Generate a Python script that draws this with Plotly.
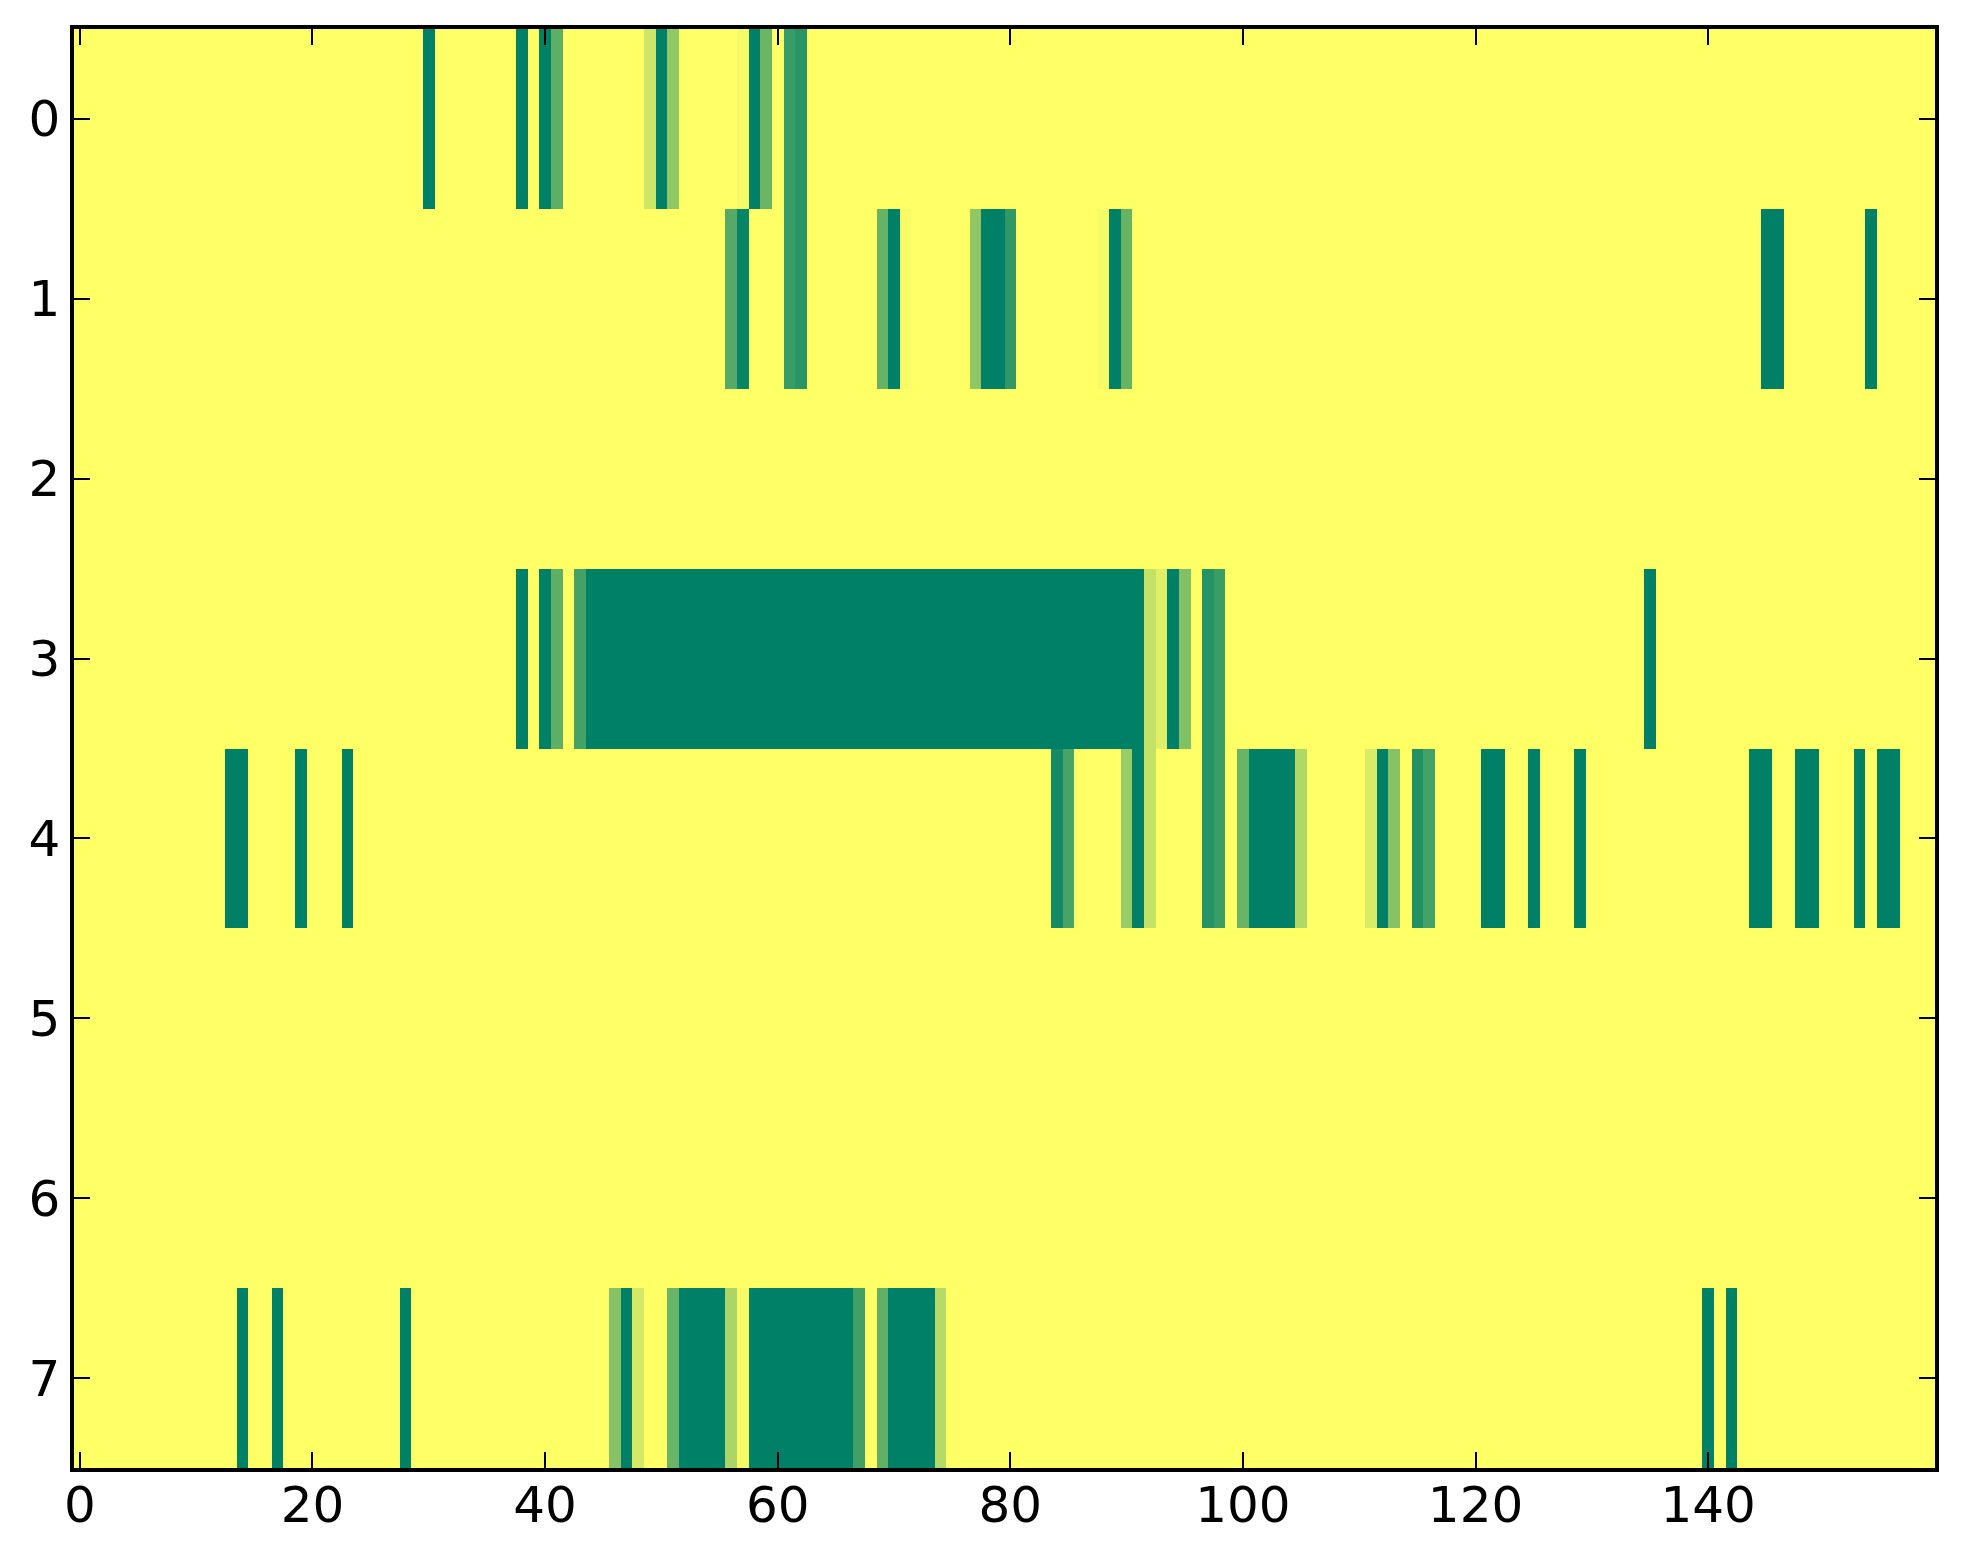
import numpy as np
import plotly.graph_objects as go

# grid size (rows x columns) of the image
n_rows = 8
n_cols = 160

# non-zero cells per row: column -> value (0 = yellow, 1 = dark green)
row0 = {30: 1.0, 38: 1.0, 40: 1.0, 41: 0.63, 49: 0.2, 50: 1.0, 51: 0.43,
        57: 0.04, 58: 1.0, 59: 0.58, 61: 0.78, 62: 0.84}
row1 = {56: 0.67, 57: 0.97, 61: 0.78, 62: 0.84, 69: 0.6, 70: 1.0, 71: 0.03,
        77: 0.44, 78: 1.0, 79: 1.0, 80: 0.81, 88: 0.04, 89: 1.0, 90: 0.6,
        145: 1.0, 146: 1.0, 154: 1.0}
row2 = {}
row3 = {38: 1.0, 40: 1.0, 41: 0.63, 43: 0.73,
        44: 1.0, 45: 1.0, 46: 1.0, 47: 1.0, 48: 1.0, 49: 1.0, 50: 1.0, 51: 1.0,
        52: 1.0, 53: 1.0, 54: 1.0, 55: 1.0, 56: 1.0, 57: 1.0, 58: 1.0, 59: 1.0,
        60: 1.0, 61: 1.0, 62: 1.0, 63: 1.0, 64: 1.0, 65: 1.0, 66: 1.0, 67: 1.0,
        68: 1.0, 69: 1.0, 70: 1.0, 71: 1.0, 72: 1.0, 73: 1.0, 74: 1.0, 75: 1.0,
        76: 1.0, 77: 1.0, 78: 1.0, 79: 1.0, 80: 1.0, 81: 1.0, 82: 1.0, 83: 1.0,
        84: 1.0, 85: 1.0, 86: 1.0, 87: 1.0, 88: 1.0, 89: 1.0, 90: 1.0, 91: 1.0,
        92: 0.23, 93: 0.12, 94: 1.0, 95: 0.5, 97: 0.85, 98: 0.77, 135: 1.0}
row4 = {13: 1.0, 14: 1.0, 19: 1.0, 23: 1.0, 84: 0.92, 85: 0.72, 90: 0.4,
        91: 1.0, 92: 0.23, 97: 0.85, 98: 0.77, 100: 0.59, 101: 1.0, 102: 1.0,
        103: 1.0, 104: 1.0, 105: 0.31, 111: 0.15, 112: 1.0, 113: 0.47,
        115: 0.87, 116: 0.73, 121: 1.0, 122: 1.0, 125: 1.0, 129: 1.0,
        144: 1.0, 145: 1.0, 148: 1.0, 149: 1.0, 153: 1.0, 155: 1.0, 156: 1.0}
row5 = {}
row6 = {}
row7 = {14: 1.0, 17: 1.0, 28: 1.0, 46: 0.47, 47: 1.0, 48: 0.17, 51: 0.59,
        52: 1.0, 53: 1.0, 54: 1.0, 55: 1.0, 56: 0.33, 57: 0.04,
        58: 1.0, 59: 1.0, 60: 1.0, 61: 1.0, 62: 1.0, 63: 1.0, 64: 1.0, 65: 1.0,
        66: 1.0, 67: 0.75, 69: 0.62, 70: 1.0, 71: 1.0, 72: 1.0, 73: 1.0,
        74: 0.29, 140: 1.0, 142: 1.0}

x_ticks = [0, 20, 40, 60, 80, 100, 120, 140]
y_ticks = [0, 1, 2, 3, 4, 5, 6, 7]

rows = [row0, row1, row2, row3, row4, row5, row6, row7]
z = np.zeros((n_rows, n_cols))
for r, cells in enumerate(rows):
    for c, v in cells.items():
        z[r, c] = v

# matplotlib summer_r
summer_r = [[0.0, "rgb(255,255,102)"], [1.0, "rgb(0,128,102)"]]

fig = go.Figure(go.Heatmap(
    z=z, x=np.arange(n_cols), y=np.arange(n_rows),
    colorscale=summer_r, zmin=0, zmax=1, showscale=False, hoverinfo="skip"))

axis_style = dict(showline=True, linecolor="black", linewidth=3.5, mirror="ticks",
                  ticks="inside", ticklen=16, tickwidth=2, tickcolor="black",
                  showgrid=False, zeroline=False,
                  tickfont=dict(family="DejaVu Sans", size=50, color="black"))

fig.update_xaxes(range=[-0.5, n_cols - 0.5], tickvals=x_ticks,
                 ticklabelstandoff=-10, **axis_style)
fig.update_yaxes(range=[n_rows - 0.5, -0.5], tickvals=y_ticks,
                 ticklabelstandoff=0, **axis_style)

# page body has an 8px margin, so the figure is shifted by that much
fig.update_layout(width=1955, height=1556,
                  margin=dict(l=66, r=28, t=21, b=96, autoexpand=False),
                  paper_bgcolor="white", plot_bgcolor="white",
                  font=dict(family="DejaVu Sans"))

fig.write_html("out.html")
